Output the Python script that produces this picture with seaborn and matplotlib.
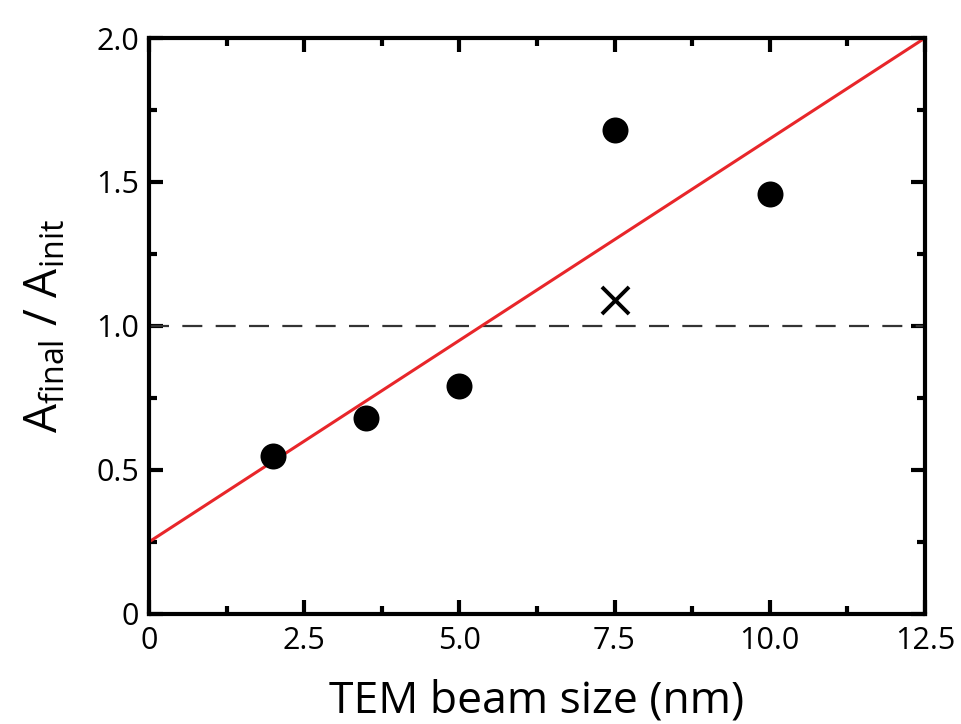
import numpy as np
import pandas as pd
import matplotlib
matplotlib.use('Agg')
import matplotlib.pyplot as plt
import seaborn as sns
from matplotlib.ticker import MultipleLocator, FixedLocator, FixedFormatter

# Data
beam_size = [2.0, 3.5, 5.0, 7.5, 10.0]
area_ratio = [0.55, 0.68, 0.79, 1.68, 1.46]
outlier_x = [7.5]
outlier_y = [1.09]
fit_x = [0.0, 12.5]
fit_y = [0.25, 2.0]

x_ticks = [0, 2.5, 5.0, 7.5, 10.0, 12.5]
x_labels = ['0', '2.5', '5.0', '7.5', '10.0', '12.5']
y_ticks = [0, 0.5, 1.0, 1.5, 2.0]
y_labels = ['0', '0.5', '1.0', '1.5', '2.0']

sns.set_theme(style='ticks')
plt.rcParams['font.family'] = ['Open Sans', 'DejaVu Sans']
plt.rcParams['mathtext.fontset'] = 'custom'
plt.rcParams['mathtext.rm'] = 'Open Sans'
plt.rcParams['mathtext.it'] = 'Open Sans'
plt.rcParams['text.color'] = 'black'
plt.rcParams['axes.labelcolor'] = 'black'
plt.rcParams['xtick.color'] = 'black'
plt.rcParams['ytick.color'] = 'black'

df = pd.DataFrame({'size': beam_size, 'ratio': area_ratio})

fig = plt.figure(figsize=(9.61, 7.24), dpi=100)
ax = fig.add_axes([0.155, 0.152, 0.8075, 0.7955])

ax.axhline(1.0, color='#333333', lw=1.6, dashes=(9, 6), zorder=1)
sns.lineplot(x=fit_x, y=fit_y, color='#e8262a', lw=2.2, ax=ax, zorder=2)
sns.scatterplot(data=df, x='size', y='ratio', s=300, color='black',
                edgecolor='black', ax=ax, zorder=3)
ax.scatter(outlier_x, outlier_y, marker='x', s=380, color='black',
           linewidths=2.8, zorder=3)

ax.set_xlim(0, 12.5)
ax.set_ylim(0, 2.0)
ax.xaxis.set_major_locator(FixedLocator(x_ticks))
ax.xaxis.set_major_formatter(FixedFormatter(x_labels))
ax.yaxis.set_major_locator(FixedLocator(y_ticks))
ax.yaxis.set_major_formatter(FixedFormatter(y_labels))
ax.xaxis.set_minor_locator(MultipleLocator(1.25))
ax.yaxis.set_minor_locator(MultipleLocator(0.25))

for sp in ax.spines.values():
    sp.set_linewidth(3)
    sp.set_color('black')
    sp.set_visible(True)

ax.tick_params(which='both', direction='in', top=True, right=True,
               width=3, color='black', labelcolor='black')
ax.tick_params(which='major', length=10, labelsize=22)
ax.tick_params(axis='x', which='major', pad=9)
ax.tick_params(axis='y', which='major', pad=7)
ax.tick_params(which='minor', length=6)

ax.set_xlabel('TEM beam size (nm)', fontsize=32, labelpad=16)
ax.set_ylabel(r'A$_{\mathrm{final}}$ / A$_{\mathrm{init}}$', fontsize=33, labelpad=20)

fig.savefig('out.png', dpi=100)
